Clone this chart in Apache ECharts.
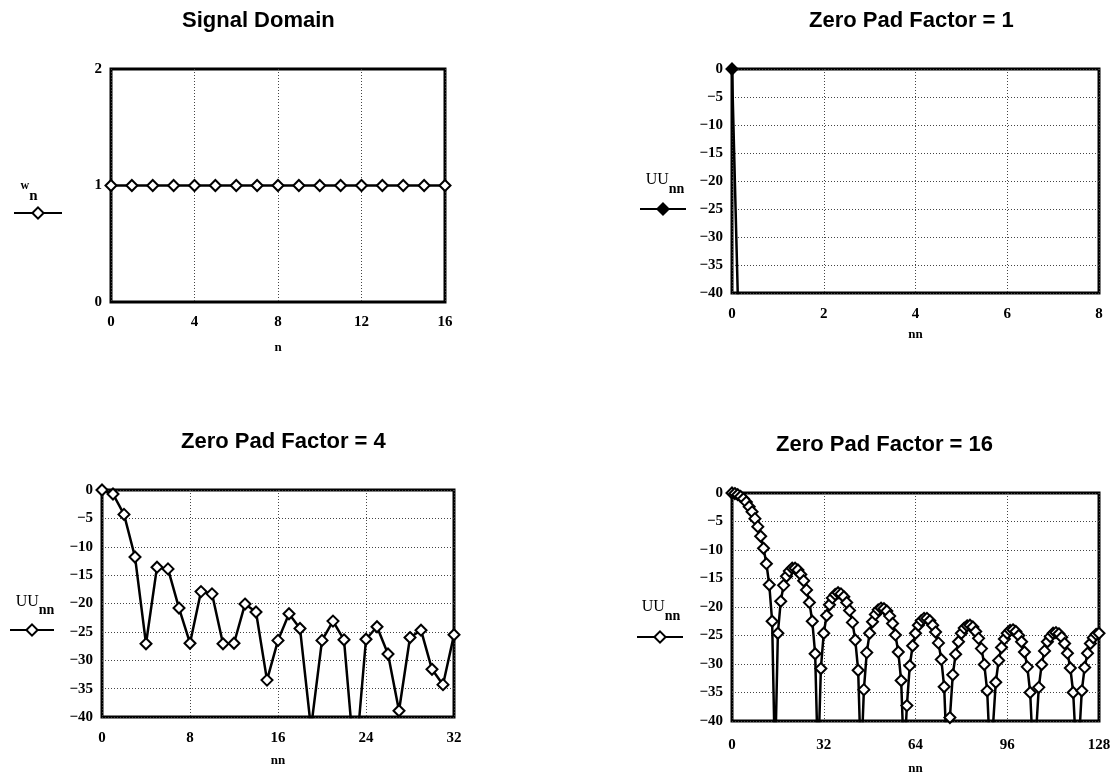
<!DOCTYPE html>
<html><head><meta charset="utf-8">
<script src="https://cdn.jsdelivr.net/npm/echarts@6/dist/echarts.min.js"></script>
<style>html,body{margin:0;padding:0;background:#fff}#c{width:1119px;height:778px}</style>
</head><body><div id="c"></div>
<script>
// ---- data ----
const titles = ['Signal Domain', 'Zero Pad Factor = 1', 'Zero Pad Factor = 4', 'Zero Pad Factor = 16'];
const signalN = [0,1,2,3,4,5,6,7,8,9,10,11,12,13,14,15,16];
const signalW = [1,1,1,1,1,1,1,1,1,1,1,1,1,1,1,1,1];
const nn1 = [0,1,2,3,4,5,6,7,8];
const uu1 = [0,-320,-320,-320,-320,-320,-320,-320,-320];
const nn4 = [0,1,2,3,4,5,6,7,8,9,10,11,12,13,14,15,16,17,18,19,20,21,22,23,24,25,26,27,28,29,30,31,32];
const uu4 = [0,-0.7,-4.3,-11.8,-27.1,-13.6,-13.9,-20.8,-27.0,-17.9,-18.3,-27.1,-27.0,-20.1,-21.5,-33.5,
             -26.5,-21.8,-24.4,-42,-26.5,-23.1,-26.4,-49,-26.3,-24.1,-28.9,-38.9,-26.0,-24.7,-31.6,-34.3,-25.5];
const nn16 = Array.from({length:129},(_, i) => i); // index axis 0..128
const uu16 = [0,-0.1,-0.3,-0.6,-1.0,-1.6,-2.4,-3.3,-4.5,-5.9,-7.6,-9.7,-12.4,-16.1,-22.5,-48,
  -24.6,-19.0,-16.2,-14.6,-13.7,-13.2,-13.2,-13.5,-14.3,-15.4,-17.0,-19.2,-22.5,-28.2,-48,-30.8,
  -24.6,-21.5,-19.6,-18.4,-17.8,-17.5,-17.7,-18.2,-19.2,-20.6,-22.7,-25.8,-31.1,-48,-34.5,-28.0,
  -24.6,-22.6,-21.3,-20.5,-20.2,-20.3,-20.7,-21.6,-22.9,-24.9,-27.9,-32.9,-47,-37.3,-30.3,-26.8,
  -24.6,-23.2,-22.4,-22.0,-22.0,-22.4,-23.2,-24.4,-26.3,-29.2,-34.0,-47,-39.4,-31.9,-28.3,-26.1,
  -24.6,-23.7,-23.3,-23.2,-23.5,-24.3,-25.5,-27.3,-30.1,-34.7,-46,-41.1,-33.2,-29.4,-27.1,-25.6,
  -24.6,-24.1,-24.0,-24.3,-25.0,-26.1,-27.9,-30.5,-35.0,-46,-42.5,-34.1,-30.1,-27.7,-26.1,-25.2,
  -24.6,-24.5,-24.7,-25.3,-26.4,-28.1,-30.7,-35.0,-45,-43.7,-34.7,-30.6,-28.1,-26.4,-25.4,-24.8,
  -24.6];
const xRanges = [[0,16,4],[0,8,2],[0,32,8],[0,128,32]];
const yRanges = [[0,2,1],[-40,0,5],[-40,0,5],[-40,0,5]];
const xNames = ['n','nn','nn','nn'];

// ---- layout ----
const grids = [
  {left:111, top:69, width:334, height:233},
  {left:732, top:69, width:367, height:224},
  {left:102, top:490, width:352, height:227},
  {left:732, top:493, width:367, height:228}
];
const titlePos = [[182,10],[809,10],[181,431],[776,434]];
const legendPos = [[13,206,48],[639,202,46],[9,623,44],[636,630,46]];
const yNameGap = [82, 67, 67, 71];
const yNamePad = [11, 7, 5, 9];
const xLabelMargin = [13, 14, 14, 17];
const xNameGap = [39, 35, 37, 41];

const serif = 'Liberation Serif';
const fmt = v => v < 0 ? '\u2212' + (-v) : String(v);
const pairs = (xs, ys) => xs.map((x, i) => [x, ys[i]]);
const seriesData = [pairs(signalN, signalW), pairs(nn1, uu1), pairs(nn4, uu4), pairs(nn16, uu16)];
const seriesNames = ['w', 'UU1', 'UU4', 'UU16'];
const yNames = ['{a|w}{b|n}', '{c|UU}{d|nn}', '{c|UU}{d|nn}', '{c|UU}{d|nn}'];

const splitStyle = {show:true, lineStyle:{color:'#444', width:1, type:[1,2]}};

const option = {
  animation:false,
  backgroundColor:'#fff',
  title: titles.map((t,i) => ({text:t, left:titlePos[i][0], top:titlePos[i][1], padding:0,
    textStyle:{fontFamily:'Liberation Sans', fontWeight:'bold', fontSize:22, color:'#000'}})),
  grid: grids.map(g => Object.assign({show:true, borderColor:'#000', borderWidth:3, backgroundColor:'transparent'}, g)),
  legend: seriesNames.map((s,i) => ({data:[s], left:legendPos[i][0], top:legendPos[i][1],
    itemWidth:legendPos[i][2], itemHeight:14, formatter:()=>'', selectedMode:false, padding:0})),
  xAxis: xRanges.map((r,i) => ({type:'value', gridIndex:i, min:r[0], max:r[1], interval:r[2],
    axisLine:{show:false}, axisTick:{show:false},
    splitLine:splitStyle,
    axisLabel:{fontFamily:serif, fontWeight:'bold', fontSize:15, color:'#000', margin:xLabelMargin[i], formatter:fmt},
    name:xNames[i], nameLocation:'middle', nameGap:xNameGap[i],
    nameTextStyle:{fontFamily:serif, fontWeight:'bold', fontSize:13, color:'#000'}})),
  yAxis: yRanges.map((r,i) => ({type:'value', gridIndex:i, min:r[0], max:r[1], interval:r[2],
    axisLine:{show:false}, axisTick:{show:false},
    splitLine: i === 0 ? {show:false} : splitStyle,
    axisLabel:{fontFamily:serif, fontWeight:'bold', fontSize:15, color:'#000', margin:9, formatter:fmt},
    name:yNames[i], nameLocation:'middle', nameRotate:0, nameGap:yNameGap[i],
    nameTextStyle:{align:'center', padding:[yNamePad[i],0,0,0], color:'#000',
      rich:{
        a:{fontFamily:serif, fontWeight:'bold', fontSize:12, color:'#000', padding:[0,0,10,0]},
        b:{fontFamily:serif, fontWeight:'bold', fontSize:15, color:'#000', padding:[10,0,0,0]},
        c:{fontFamily:serif, fontSize:16, color:'#000', padding:[0,0,9,0]},
        d:{fontFamily:serif, fontWeight:'bold', fontSize:14, color:'#000', padding:[9,0,0,0]}
      }}})),
  series: seriesData.map((d,i) => ({type:'line', name:seriesNames[i], xAxisIndex:i, yAxisIndex:i, data:d,
    symbol:'diamond', symbolSize:11, showAllSymbol:true, clip:true,
    lineStyle:{color:'#000', width:2.5},
    itemStyle:{color: i === 1 ? '#000' : '#fff', borderColor:'#000', borderWidth:2},
    emphasis:{disabled:true}}))
};
const chart = echarts.init(document.getElementById('c'), null, {renderer:'canvas'});
chart.setOption(option);
</script></body></html>
